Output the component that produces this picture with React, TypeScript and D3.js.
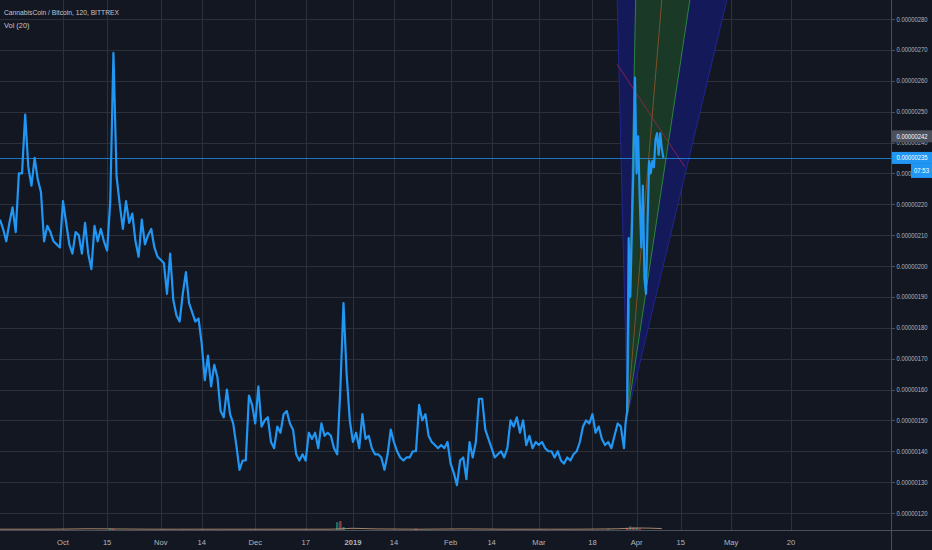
import { useEffect, useRef } from 'react';
import * as d3 from 'd3';

// prices in satoshi (1e-8 BTC)
const seriesStart = Date.UTC(2018, 8, 11); // Sep 11 2018
const dayMs = 86400000;

// daily closes, Sep 11 2018 -> Mar 28 2019
const dailyClose = [
  215, 212, 208, 214, 219, 211, 230, 230, 249, 232, 226, 235, 228, 224, 208, 213, 211, 208, 207, 206,
  221, 214, 207, 204, 211, 210, 204, 214, 204, 199,
  213, 208, 212, 208, 205, 221, 269, 229, 220, 212,
  221, 214, 217, 208, 203, 215, 207, 210, 212, 206,
  203, 202, 201, 191, 204, 189, 184, 182, 191, 198,
  188, 185, 182, 183, 175, 163, 171, 161, 168, 164,
  153, 151, 160, 152, 149, 142, 134, 137, 137, 158,
  155, 149, 161, 148, 150, 151, 143, 141, 148, 146,
  152, 153, 149, 147, 139, 137, 139, 137, 146, 144,
  146, 141, 149, 145, 146, 145, 141, 139, 160, 188,
  165, 150, 143, 146, 141, 152, 144, 145, 141, 139,
  139, 138, 134, 139, 147, 143, 140, 138, 137, 138,
  138, 140, 140, 155, 150, 152, 145, 143, 142, 141,
  142, 141, 143, 136, 133, 129, 137, 138, 131, 143,
  138, 143, 157, 157, 147, 144, 141, 138, 139, 140,
  138, 141, 150, 148, 151, 146, 150, 142, 145, 141,
  143, 142, 143, 141, 140, 140, 138, 140, 137, 136,
  138, 137, 139, 140, 143, 148, 150, 149, 152, 146,
  148, 144, 142, 143, 141, 145, 149, 148, 141,
];

// 12h closes from Mar 28 12:00 -> Apr 10
const pumpStartDay = 198.5;
const pumpClose = [
  149, 153, 209, 190, 211, 232, 261, 230, 242, 222, 206, 226, 196,
  191, 215, 234, 230, 234, 232, 241, 243, 236, 243, 238, 235,
];

const lastPrice = 235;
const highPrice = 242;

const priceTicks = [120, 130, 140, 150, 160, 170, 180, 190, 200, 210, 220, 230, 240, 250, 260, 270, 280];

const dateTicks = [
  '2018-10-01', '2018-10-15', '2018-11-01', '2018-11-14', '2018-12-01', '2018-12-17',
  '2019-01-01', '2019-01-14', '2019-02-01', '2019-02-14', '2019-03-01', '2019-03-18',
  '2019-04-01', '2019-04-15', '2019-05-01', '2019-05-20',
];
const dateLabels = ['Oct', '15', 'Nov', '14', 'Dec', '17', '2019', '14', 'Feb', '14', 'Mar', '18', 'Apr', '15', 'May', '20'];

// volume (relative units)
const volumeDates = [
  '2018-10-16', '2018-10-17', '2018-12-27', '2018-12-28', '2018-12-29', '2019-01-21',
  '2019-03-23', '2019-03-29', '2019-03-30', '2019-03-31', '2019-04-01', '2019-04-02',
];
const volumeValues = [5, 4, 26, 30, 10, 4, 3, 7, 12, 9, 8, 5];
// weekly Vol MA(20) from Sep 11
const volMa = [1, 1, 1, 1.5, 2.5, 2, 1.5, 1, 1, 1, 1, 1, 1, 1, 1, 1, 4, 2, 1.5, 1, 1.5, 2, 1.5, 1, 1, 1, 1, 1.5, 2.5, 5, 3];

// fan drawing: origin and where each ray crosses 0.00000280
const fanOrigin = { date: '2019-03-29T02:00Z', price: 151.7 };
const fanRayDates = {
  outerLeft: '2019-03-26T00:00Z',
  innerLeft: '2019-03-31T14:00Z',
  median: '2019-04-08T12:00Z',
  innerRight: '2019-04-17T00:00Z',
  outerRight: '2019-04-28T05:00Z',
};
const fanRayPrice = 280;
const crossLine = [
  { date: '2019-03-25T19:00Z', price: 265.4 },
  { date: '2019-04-16T07:00Z', price: 232.1 },
];

export default function App() {
  const svgRef = useRef<SVGSVGElement>(null);

  useEffect(() => {
    if (!svgRef.current) return;
    const svg = d3.select(svgRef.current);
    svg.selectAll('*').remove();

    const width = 932;
    const height = 550;
    const plotRight = 891;
    const plotBottom = 530;
    const axisFont = "'Liberation Sans', 'DejaVu Sans', sans-serif";
    const textColor = '#b2b5be';
    const gridColor = '#2c303b';
    const labelLen = 31;

    svg.append('rect').attr('width', width).attr('height', height).attr('fill', '#131722');

    const x = d3
      .scaleUtc()
      .domain([new Date(Date.UTC(2018, 9, 1)), new Date(Date.UTC(2019, 4, 20))])
      .range([63, 791]);
    const y = d3.scaleLinear().domain([120, 280]).range([513, 19]);
    const yVol = d3.scaleLinear().domain([0, 100]).range([plotBottom, plotBottom - 30]);

    svg
      .append('clipPath')
      .attr('id', 'plot-clip')
      .append('rect')
      .attr('width', plotRight)
      .attr('height', plotBottom);

    const plot = svg.append('g').attr('clip-path', 'url(#plot-clip)');

    // grid
    plot
      .selectAll('.hgrid')
      .data(priceTicks)
      .enter()
      .append('line')
      .attr('x1', 0)
      .attr('x2', plotRight)
      .attr('y1', (d) => Math.round(y(d)) + 0.5)
      .attr('y2', (d) => Math.round(y(d)) + 0.5)
      .attr('stroke', gridColor);

    plot
      .selectAll('.vgrid')
      .data(dateTicks)
      .enter()
      .append('line')
      .attr('x1', (d) => Math.round(x(new Date(d))) + 0.5)
      .attr('x2', (d) => Math.round(x(new Date(d))) + 0.5)
      .attr('y1', 0)
      .attr('y2', plotBottom)
      .attr('stroke', gridColor);

    // fan
    const o: [number, number] = [x(new Date(fanOrigin.date)), y(fanOrigin.price)];
    const rayTop = (date: string): [number, number] => {
      const px = x(new Date(date));
      const py = y(fanRayPrice);
      const t = (o[1] + 10) / (o[1] - py);
      return [o[0] + (px - o[0]) * t, -10];
    };
    const oL = rayTop(fanRayDates.outerLeft);
    const iL = rayTop(fanRayDates.innerLeft);
    const md = rayTop(fanRayDates.median);
    const iR = rayTop(fanRayDates.innerRight);
    const oR = rayTop(fanRayDates.outerRight);

    const poly = (pts: [number, number][]) => 'M' + pts.map((p) => p.join(',')).join('L') + 'Z';
    plot.append('path').attr('d', poly([o, oL, iL])).attr('fill', '#141959');
    plot.append('path').attr('d', poly([o, iR, oR])).attr('fill', '#141959');
    plot.append('path').attr('d', poly([o, iL, iR])).attr('fill', '#1a3a27');

    const ray = (p: [number, number], color: string, op = 1) =>
      plot
        .append('line')
        .attr('x1', o[0])
        .attr('y1', o[1])
        .attr('x2', p[0])
        .attr('y2', p[1])
        .attr('stroke', color)
        .attr('stroke-opacity', op)
        .attr('stroke-width', 1);
    ray(oL, '#2a2fc0', 0.6);
    ray(oR, '#2a2fc0', 0.6);
    ray(iL, '#2f9a48', 0.8);
    ray(iR, '#2f9a48', 0.8);
    ray(md, '#a85a2a', 0.7);

    plot
      .append('line')
      .attr('x1', x(new Date(crossLine[0].date)))
      .attr('y1', y(crossLine[0].price))
      .attr('x2', x(new Date(crossLine[1].date)))
      .attr('y2', y(crossLine[1].price))
      .attr('stroke', '#a3204f')
      .attr('stroke-opacity', 0.8)
      .attr('stroke-width', 1);

    // current price line
    plot
      .append('line')
      .attr('x1', 0)
      .attr('x2', plotRight)
      .attr('y1', Math.round(y(lastPrice)) + 0.5)
      .attr('y2', Math.round(y(lastPrice)) + 0.5)
      .attr('stroke', '#2196f3')
      .attr('stroke-opacity', 0.75);

    // volume
    plot
      .selectAll('.vol')
      .data(volumeDates)
      .enter()
      .append('rect')
      .attr('x', (d) => x(new Date(d)) - 1.2)
      .attr('width', 2.4)
      .attr('y', (d, i) => yVol(volumeValues[i]))
      .attr('height', (d, i) => plotBottom - yVol(volumeValues[i]))
      .attr('fill', (d, i) => (i % 2 === 0 ? '#26a69a' : '#ef5350'))
      .attr('fill-opacity', 0.6);

    const maLine = d3
      .line<number>()
      .x((d, i) => x(new Date(seriesStart + i * 7 * dayMs)))
      .y((d) => yVol(d) - 0.5)
      .curve(d3.curveMonotoneX);
    plot
      .append('path')
      .attr('d', maLine(volMa))
      .attr('fill', 'none')
      .attr('stroke', '#c9a27c')
      .attr('stroke-opacity', 0.8)
      .attr('stroke-width', 1);

    // price series
    const points: [Date, number][] = [
      ...dailyClose.map((p, i) => [new Date(seriesStart + i * dayMs), p] as [Date, number]),
      ...pumpClose.map((p, i) => [new Date(seriesStart + (pumpStartDay + i * 0.5) * dayMs), p] as [Date, number]),
    ];
    const priceLine = d3
      .line<[Date, number]>()
      .x((d) => x(d[0]))
      .y((d) => y(d[1]));
    plot
      .append('path')
      .attr('d', priceLine(points))
      .attr('fill', 'none')
      .attr('stroke', '#2196f3')
      .attr('stroke-width', 2.2)
      .attr('stroke-linejoin', 'round');

    // axis borders
    svg
      .append('line')
      .attr('x1', 0)
      .attr('x2', width)
      .attr('y1', plotBottom + 0.5)
      .attr('y2', plotBottom + 0.5)
      .attr('stroke', '#4a4e59');
    svg
      .append('line')
      .attr('x1', plotRight + 0.5)
      .attr('x2', plotRight + 0.5)
      .attr('y1', 0)
      .attr('y2', height)
      .attr('stroke', '#4a4e59');

    // price axis
    const yAxis = svg.append('g');
    yAxis
      .selectAll('.tick-mark')
      .data(priceTicks)
      .enter()
      .append('line')
      .attr('x1', plotRight)
      .attr('x2', plotRight + 4)
      .attr('y1', (d) => Math.round(y(d)) + 0.5)
      .attr('y2', (d) => Math.round(y(d)) + 0.5)
      .attr('stroke', '#4a4e59');
    yAxis
      .selectAll('.tick-label')
      .data(priceTicks)
      .enter()
      .append('text')
      .attr('x', 896.5)
      .attr('y', (d) => y(d))
      .attr('dominant-baseline', 'central')
      .attr('fill', textColor)
      .attr('font-family', axisFont)
      .attr('font-size', '6.6px')
      .attr('textLength', labelLen)
      .attr('lengthAdjust', 'spacingAndGlyphs')
      .text((d) => (d * 1e-8).toFixed(8));

    const priceBox = (price: number, fill: string) => {
      const cy = y(price);
      svg
        .append('rect')
        .attr('x', plotRight + 1)
        .attr('y', cy - 6)
        .attr('width', width - plotRight - 1)
        .attr('height', 12)
        .attr('fill', fill);
      svg
        .append('text')
        .attr('x', 896.5)
        .attr('y', cy)
        .attr('dominant-baseline', 'central')
        .attr('fill', '#ffffff')
        .attr('font-family', axisFont)
        .attr('font-size', '6.6px')
        .attr('textLength', labelLen)
        .attr('lengthAdjust', 'spacingAndGlyphs')
        .text((price * 1e-8).toFixed(8));
    };
    priceBox(highPrice, '#4c505b');
    priceBox(lastPrice, '#2196f3');
    const cdY = y(lastPrice) + 6;
    svg
      .append('rect')
      .attr('x', 911)
      .attr('y', cdY)
      .attr('width', width - 911)
      .attr('height', 14)
      .attr('fill', '#2196f3');
    svg
      .append('text')
      .attr('x', 921.5)
      .attr('y', cdY + 7)
      .attr('text-anchor', 'middle')
      .attr('dominant-baseline', 'central')
      .attr('fill', '#ffffff')
      .attr('font-family', axisFont)
      .attr('font-size', '6.6px')
      .attr('textLength', 15)
      .attr('lengthAdjust', 'spacingAndGlyphs')
      .text('07:53');

    // time axis
    svg
      .append('g')
      .selectAll('text')
      .data(dateTicks)
      .enter()
      .append('text')
      .attr('x', (d) => x(new Date(d)))
      .attr('y', 542)
      .attr('text-anchor', 'middle')
      .attr('dominant-baseline', 'central')
      .attr('fill', textColor)
      .attr('font-family', axisFont)
      .attr('font-size', '7.6px')
      .attr('font-weight', (d, i) => (dateLabels[i] === '2019' ? 'bold' : 'normal'))
      .text((d, i) => dateLabels[i]);

    // legend
    svg
      .append('text')
      .attr('x', 4)
      .attr('y', 12)
      .attr('dominant-baseline', 'central')
      .attr('fill', '#c3c6ce')
      .attr('font-family', axisFont)
      .attr('font-size', '7.4px')
      .attr('textLength', 115)
      .attr('lengthAdjust', 'spacingAndGlyphs')
      .text('CannabisCoin / Bitcoin, 120, BITTREX');
    svg
      .append('text')
      .attr('x', 4)
      .attr('y', 25)
      .attr('dominant-baseline', 'central')
      .attr('fill', '#c3c6ce')
      .attr('font-family', axisFont)
      .attr('font-size', '7.4px')
      .text('Vol (20)');
  }, []);

  return (
    <svg
      ref={svgRef}
      width={932}
      height={550}
      style={{ position: 'absolute', left: 0, top: 0, display: 'block' }}
    ></svg>
  );
}
